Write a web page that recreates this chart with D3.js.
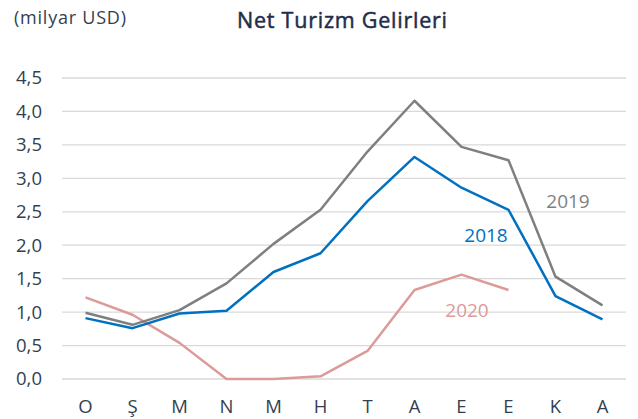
<!DOCTYPE html>
<html>
<head>
<meta charset="utf-8">
<script src="https://cdn.jsdelivr.net/npm/d3@7"></script>
<style>
  body { margin: 0; background: #fff; }
</style>
</head>
<body>
<svg id="chart" width="638" height="419"></svg>
<script>
// Month initials (Ocak .. Aralık)
var months = ["O", "Ş", "M", "N", "M", "H", "T", "A", "E", "E", "K", "A"];
var y_ticks = [0, 0.5, 1, 1.5, 2, 2.5, 3, 3.5, 4, 4.5];

// Net tourism revenue, billion USD
var values_2018 = [0.91, 0.76, 0.98, 1.02, 1.60, 1.88, 2.66, 3.32, 2.86, 2.53, 1.24, 0.89];
var values_2019 = [0.99, 0.81, 1.03, 1.43, 2.02, 2.53, 3.40, 4.16, 3.47, 3.27, 1.53, 1.10];
var values_2020 = [1.22, 0.96, 0.54, 0.00, 0.00, 0.04, 0.42, 1.33, 1.56, 1.33];

var svg = d3.select("#chart");
var text_color = "#333f50";
var font = "Open Sans, sans-serif";

var x_scale = d3.scaleBand()
  .domain(d3.range(months.length))
  .range([62, 626]);

var y_scale = d3.scaleLinear()
  .domain([0, 4.5])
  .range([379, 78]);

// Grid lines
svg.append("g")
  .selectAll("line")
  .data(y_ticks)
  .join("line")
  .attr("x1", 62).attr("x2", 626)
  .attr("y1", d => y_scale(d)).attr("y2", d => y_scale(d))
  .attr("stroke", "#d9d9d9")
  .attr("stroke-width", 1.3);

// Y axis labels
var fmt = d3.format(".1f");
var y_axis = d3.axisLeft(y_scale)
  .tickValues(y_ticks)
  .tickSize(0)
  .tickPadding(0)
  .tickFormat(d => fmt(d).replace(".", ","));

svg.append("g")
  .attr("transform", "translate(42,0)")
  .call(y_axis)
  .call(g => g.select(".domain").remove())
  .selectAll("text")
  .attr("fill", text_color)
  .style("font-family", font)
  .style("font-size", "18.5px");

// X axis labels
var x_axis = d3.axisBottom(x_scale)
  .tickSize(0)
  .tickPadding(0)
  .tickFormat(i => months[i]);

svg.append("g")
  .attr("transform", "translate(0,400)")
  .call(x_axis)
  .call(g => g.select(".domain").remove())
  .selectAll("text")
  .attr("fill", text_color)
  .style("font-family", font)
  .style("font-size", "18.5px");

// Lines
var line_gen = d3.line()
  .x((d, i) => x_scale(i) + x_scale.bandwidth() / 2)
  .y(d => y_scale(d));

var series = [
  { name: "2020", values: values_2020, color: "#dc9a98", lx: 467, ly: 310 },
  { name: "2019", values: values_2019, color: "#7f7f7f", lx: 568, ly: 201 },
  { name: "2018", values: values_2018, color: "#0070c0", lx: 486, ly: 235 }
];

series.forEach(function (s) {
  svg.append("path")
    .datum(s.values)
    .attr("d", line_gen)
    .attr("fill", "none")
    .attr("stroke", s.color)
    .attr("stroke-width", 2.5)
    .attr("stroke-linejoin", "round");

  svg.append("text")
    .attr("x", s.lx)
    .attr("y", s.ly)
    .attr("text-anchor", "middle")
    .attr("dominant-baseline", "central")
    .attr("fill", s.color)
    .style("font-family", font)
    .style("font-size", "19px")
    .text(s.name);
});

// Titles
svg.append("text")
  .attr("x", 237).attr("y", 28)
  .attr("textLength", 210)
  .attr("lengthAdjust", "spacing")
  .attr("fill", "#1f2d4a")
  .attr("stroke", "#1f2d4a")
  .attr("stroke-width", 0.5)
  .style("font-family", font)
  .style("font-size", "21.5px")
  .text("Net Turizm Gelirleri");

svg.append("text")
  .attr("x", 14).attr("y", 24)
  .attr("textLength", 112)
  .attr("lengthAdjust", "spacing")
  .attr("fill", text_color)
  .style("font-family", font)
  .style("font-size", "18px")
  .text("(milyar USD)");
</script>
</body>
</html>
